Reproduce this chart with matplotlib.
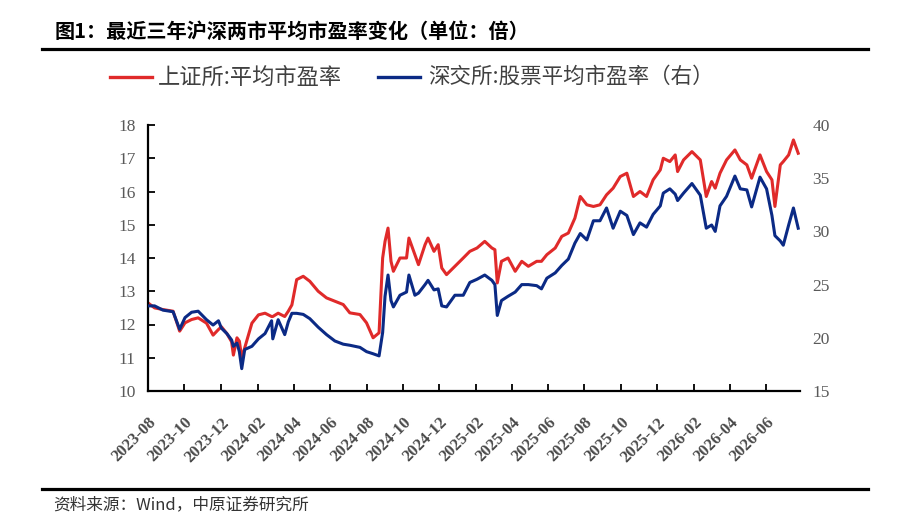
import matplotlib
matplotlib.use('Agg')
import matplotlib.pyplot as plt
import matplotlib.dates as mdates
from matplotlib.lines import Line2D
import pandas as pd

plt.rcParams['font.family'] = ['Noto Sans CJK SC', 'DejaVu Sans']

# ---------------- data ----------------
dates = [
    "2023-08-01", "2023-08-12", "2023-08-26", "2023-09-12", "2023-09-23", "2023-10-02",
    "2023-10-13", "2023-10-24", "2023-11-07", "2023-11-18", "2023-11-27", "2023-12-02",
    "2023-12-11", "2023-12-19", "2023-12-22", "2023-12-28", "2024-01-01", "2024-01-05",
    "2024-01-10", "2024-01-22", "2024-02-02", "2024-02-13", "2024-02-24", "2024-02-26",
    "2024-03-06", "2024-03-17", "2024-03-23", "2024-03-29", "2024-04-06", "2024-04-17",
    "2024-04-28", "2024-05-12", "2024-05-26", "2024-06-09", "2024-06-23", "2024-07-04",
    "2024-07-21", "2024-08-01", "2024-08-12", "2024-08-22", "2024-08-28", "2024-09-01",
    "2024-09-06", "2024-09-11", "2024-09-15", "2024-09-26", "2024-10-07", "2024-10-11",
    "2024-10-21", "2024-10-27", "2024-11-07", "2024-11-12", "2024-11-22", "2024-11-29",
    "2024-12-05", "2024-12-13", "2024-12-27", "2025-01-10", "2025-01-21", "2025-02-02",
    "2025-02-15", "2025-02-27", "2025-03-04", "2025-03-08", "2025-03-15", "2025-03-26",
    "2025-04-07", "2025-04-18", "2025-04-29", "2025-05-13", "2025-05-21", "2025-05-30",
    "2025-06-13", "2025-06-24", "2025-07-05", "2025-07-16", "2025-07-25", "2025-08-05",
    "2025-08-16", "2025-08-27", "2025-09-07", "2025-09-18", "2025-09-30", "2025-10-11",
    "2025-10-22", "2025-11-02", "2025-11-13", "2025-11-24", "2025-12-06", "2025-12-11",
    "2025-12-22", "2025-12-31", "2026-01-04", "2026-01-14", "2026-01-28", "2026-02-11",
    "2026-02-21", "2026-03-02", "2026-03-08", "2026-03-16", "2026-03-27", "2026-04-10",
    "2026-04-19", "2026-04-30", "2026-05-08", "2026-05-22", "2026-06-02", "2026-06-11",
    "2026-06-16", "2026-06-25", "2026-06-30", "2026-07-09", "2026-07-17", "2026-07-25",
]

# 上证所:平均市盈率 (left axis)
sse_pe = [
    12.65, 12.50, 12.45, 12.40, 11.80, 12.05,
    12.15, 12.20, 12.04, 11.68, 11.85, 11.93,
    11.73, 11.48, 11.08, 11.60, 11.50, 11.00,
    11.30, 12.04, 12.29, 12.34, 12.24, 12.24,
    12.34, 12.24, 12.40, 12.59, 13.35, 13.45,
    13.30, 13.00, 12.80, 12.70, 12.60, 12.35,
    12.30, 12.05, 11.60, 11.75, 14.00, 14.50,
    14.90, 13.90, 13.60, 14.00, 14.00, 14.60,
    14.10, 13.80, 14.40, 14.60, 14.20, 14.40,
    13.70, 13.50, 13.75, 14.00, 14.20, 14.30,
    14.50, 14.30, 14.25, 13.25, 13.90, 14.00,
    13.60, 13.90, 13.75, 13.90, 13.90, 14.10,
    14.30, 14.65, 14.75, 15.20, 15.85, 15.60,
    15.55, 15.60, 15.90, 16.10, 16.45, 16.55,
    15.85, 16.00, 15.85, 16.35, 16.65, 17.00,
    16.90, 17.10, 16.60, 16.95, 17.20, 16.95,
    15.85, 16.30, 16.10, 16.55, 16.95, 17.25,
    16.95, 16.80, 16.40, 17.10, 16.60, 16.35,
    15.55, 16.80, 16.90, 17.10, 17.55, 17.15,
]

# 深交所:股票平均市盈率 (right axis)
szse_pe = [
    23.0, 23.0, 22.6, 22.45, 20.8, 21.9,
    22.4, 22.5, 21.7, 21.2, 21.6, 20.9,
    20.4, 19.8, 19.2, 19.5, 18.7, 17.1,
    18.9, 19.2, 19.9, 20.4, 21.6, 19.9,
    21.7, 20.3, 21.5, 22.3, 22.3, 22.2,
    21.8, 21.0, 20.3, 19.7, 19.4, 19.3,
    19.1, 18.7, 18.5, 18.3, 20.5, 23.9,
    25.9, 23.5, 22.9, 24.0, 24.3, 25.9,
    24.0, 24.2, 25.0, 25.4, 24.5, 24.6,
    23.0, 22.9, 24.0, 24.0, 25.2, 25.5,
    25.9, 25.4, 25.0, 22.1, 23.5, 23.9,
    24.3, 25.0, 25.0, 24.9, 24.6, 25.6,
    26.1, 26.8, 27.4, 28.9, 29.8, 29.2,
    31.0, 31.0, 32.2, 30.3, 31.9, 31.5,
    29.7, 30.8, 30.4, 31.6, 32.4, 33.6,
    34.0, 33.5, 32.9, 33.6, 34.5, 33.4,
    30.3, 30.6, 30.0, 32.4, 33.3, 35.2,
    34.0, 33.9, 32.3, 35.1, 34.0, 31.5,
    29.6, 29.1, 28.7, 30.6, 32.2, 30.3,
]

left_ticks = [10, 11, 12, 13, 14, 15, 16, 17, 18]
right_ticks = [15, 20, 25, 30, 35, 40]
x_start, x_end = "2023-08-01", "2026-07-28"

title = "图1：最近三年沪深两市平均市盈率变化（单位：倍）"
label_sse = "上证所:平均市盈率"
label_szse = "深交所:股票平均市盈率（右）"
source = "资料来源：Wind，中原证券研究所"

# ---------------- drawing ----------------
W, H = 919, 531
red = '#E02A2A'
blue = '#0B2A85'
tick_gray = '#595959'
serif = ['Liberation Serif', 'DejaVu Serif']

x = pd.to_datetime(dates)

fig = plt.figure(figsize=(W / 100, H / 100), dpi=100)
ax = fig.add_axes([148 / W, 1 - 391 / H, (800 - 148) / W, (391 - 125) / H])
ax2 = ax.twinx()

ax.plot(x, sse_pe, color=red, lw=2.2, solid_joinstyle='round')
ax2.plot(x, szse_pe, color=blue, lw=2.2, solid_joinstyle='round')

ax.set_xlim(pd.Timestamp(x_start), pd.Timestamp(x_end))
ax.set_ylim(left_ticks[0], left_ticks[-1])
ax2.set_ylim(right_ticks[0], right_ticks[-1])
ax.set_yticks(left_ticks)
ax2.set_yticks(right_ticks)

ax.xaxis.set_major_locator(mdates.MonthLocator(bymonth=[2, 4, 6, 8, 10, 12]))
ax.xaxis.set_major_formatter(mdates.DateFormatter('%Y-%m'))

for s in ['top', 'right']:
    ax.spines[s].set_visible(False)
for s in ['left', 'bottom']:
    ax.spines[s].set_linewidth(1.6)
    ax.spines[s].set_color('black')
for s in ax2.spines.values():
    s.set_visible(False)

ax.tick_params(axis='y', direction='in', length=5, width=1.3, pad=9,
               labelsize=12.5, labelcolor=tick_gray)
ax.tick_params(axis='x', direction='in', length=5, width=1.3, pad=17,
               labelsize=12, labelcolor='#4a4a4a')
ax2.tick_params(axis='y', length=0, pad=9, labelsize=12.5, labelcolor=tick_gray)

for lab in ax.get_yticklabels() + ax2.get_yticklabels():
    lab.set_family(serif)
for lab in ax.get_xticklabels():
    lab.set_family(serif)
    lab.set_fontweight('bold')
    lab.set_rotation(45)
    lab.set_ha('right')
    lab.set_va('top')
    lab.set_rotation_mode('anchor')

# title and rules
fig.text(55 / W, 1 - 31 / H, title, fontsize=14.5, fontweight='bold',
         color='black', va='center', ha='left')
fig.add_artist(Line2D([42 / W, 868 / W], [1 - 48.5 / H, 1 - 48.5 / H],
                      transform=fig.transFigure, color='black', lw=2.3))
fig.add_artist(Line2D([42 / W, 868 / W], [1 - 489 / H, 1 - 489 / H],
                      transform=fig.transFigure, color='black', lw=2.3))
fig.text(53 / W, 1 - 505 / H, source, fontsize=12, color='#333333',
         va='center', ha='left')

# legend
ly = 1 - 77 / H
fig.add_artist(Line2D([110 / W, 152 / W], [ly, ly], transform=fig.transFigure,
                      color=red, lw=2.4))
fig.text(158 / W, ly, label_sse, fontsize=16, color='#404040', va='center', ha='left')
fig.add_artist(Line2D([378 / W, 420 / W], [ly, ly], transform=fig.transFigure,
                      color=blue, lw=2.4))
fig.text(428 / W, ly, label_szse, fontsize=15.5, color='#404040', va='center', ha='left')

fig.savefig('out.png', dpi=100)
